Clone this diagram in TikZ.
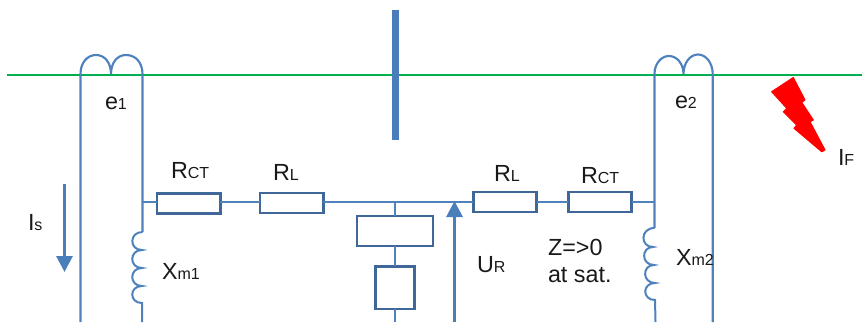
\documentclass[tikz,border=0pt]{standalone}
\usepackage{fontspec}
\setmainfont{Liberation Sans}
\usetikzlibrary{arrows.meta}
\definecolor{wire}{HTML}{4F81BD}
\definecolor{boxline}{HTML}{3F6797}
\definecolor{barblue}{HTML}{4A7EBB}
\definecolor{linegreen}{HTML}{00B050}
\newcommand{\bigt}[2]{\fontsize{17.5}{17}\selectfont #1\fontsize{12}{12}\selectfont #2}
\tikzset{
  x=0.75pt,y=-0.75pt,
  wireline/.style={draw=wire,line width=1.5pt},
  ctline/.style={draw=wire,line width=1.6pt},
  res/.style={draw=boxline,line width=2pt,fill=white,rectangle,inner sep=0pt,outer sep=0pt},
  lab/.style={anchor=base west,inner sep=0pt,outer sep=0pt,text=black!90},
  bigarrow/.style={draw=barblue,line width=2.2pt,-{Triangle[length=12pt,width=12pt]}},
}
\begin{document}
\begin{tikzpicture}
\useasboundingbox (0,0) rectangle (862,322);
% named points
\coordinate (lineL) at (7,74.5);
\coordinate (lineR) at (862,74.5);
\coordinate (busT) at (395.5,10);
\coordinate (busB) at (395.5,140);
\coordinate (aL) at (80.5,74);
\coordinate (aM) at (111,74);
\coordinate (aR) at (142.5,74);
\coordinate (aLb) at (80.5,322);
\coordinate (jL) at (142.5,201.5);
\coordinate (coilLt) at (142.5,232);
\coordinate (coilLb) at (142,303);
\coordinate (aRb) at (142,322);
\coordinate (bL) at (654.5,74);
\coordinate (bM) at (683.5,74);
\coordinate (bR) at (712.7,74);
\coordinate (bRb) at (712.7,322);
\coordinate (jR) at (654.5,201.5);
\coordinate (coilRt) at (654.5,228);
\coordinate (coilRb) at (655,300);
\coordinate (bLb) at (655.5,322);
\coordinate (jM) at (395,201.5);
\coordinate (midB) at (395,322);
\coordinate (urB) at (454.5,322);
\coordinate (urT) at (454.5,201);
\coordinate (isT) at (64.5,184);
\coordinate (isB) at (64.5,272);
% green line
\draw[linegreen,line width=1.5pt] (lineL) -- (lineR);
% bus bar
\draw[barblue,line width=5.2pt] (busT) -- (busB);
% left CT
\draw[ctline] (aLb) -- (aL) .. controls (80.5,63) and (87,55) .. (96,55) .. controls (105,55) and (111,63) .. (aM) .. controls (111,63) and (117,55) .. (126,55) .. controls (136,55) and (142.5,63) .. (aR) -- (coilLt);
\draw[wireline] (coilLt) .. controls (129,232) and (129,250) .. (142,250) .. controls (129,250) and (129,268) .. (142,268) .. controls (129,268) and (129,286) .. (142,286) .. controls (129,286) and (129,303) .. (coilLb) -- (aRb);
% right CT
\draw[ctline] (bRb) -- (bR) .. controls (712.7,63) and (706,54.5) .. (698,54.5) .. controls (690,54.5) and (683.5,63) .. (bM) .. controls (683.5,64) and (677,56) .. (669,56) .. controls (661,56) and (654.5,64) .. (bL) -- (coilRt);
\draw[wireline] (coilRt) .. controls (640,228) and (640,247) .. (653,247) .. controls (641,247) and (641,265) .. (654,265) .. controls (642,265) and (642,283) .. (655,283) .. controls (642,283) and (642,300) .. (coilRb) -- (bLb);
% resistors
\node[res,minimum width=47.5pt,minimum height=15pt] (rct1) at (188.5,203.5) {};
\node[res,minimum width=47.5pt,minimum height=15pt] (rl1) at (291.5,203) {};
\node[res,minimum width=47.5pt,minimum height=15pt] (rl2) at (505,202) {};
\node[res,minimum width=47.5pt,minimum height=15pt] (rct2) at (600,202) {};
\node[res,minimum width=57pt,minimum height=22.5pt] (zbox) at (395,231) {};
\node[res,minimum width=29.25pt,minimum height=32pt] (sbox) at (395,287.5) {};
% wires
\draw[wireline] (jL) -- (rct1.west |- jL);
\draw[wireline] (rct1.east |- jL) -- (rl1.west |- jL);
\draw[wireline] (rl1.east |- jL) -- (rl2.west |- jL);
\draw[wireline] (rl2.east |- jL) -- (rct2.west |- jL);
\draw[wireline] (rct2.east |- jL) -- (jR);
\draw[wireline] (jM) -- (jM |- zbox.north);
\draw[wireline] (jM |- zbox.south) -- (jM |- sbox.north);
\draw[wireline] (jM |- sbox.south) -- (midB);
% arrows
\draw[bigarrow] (urB) -- (urT);
\draw[bigarrow] (isT) -- (isB);
% lightning
\fill[red,draw=red,line width=0.8pt,line join=round] (771.7,91.7) -- (793.3,77.5) -- (805,100) -- (801.7,102.3) -- (813.3,120) -- (810,121.7) -- (825,150) -- (821.7,151.7) -- (794,128.3) -- (796.7,125) -- (783.3,111.7) -- (786.7,108.3) -- cycle;
% labels
\node[lab] (te1) at (105,109) {\bigt{e}{1}};
\node[lab] (te2) at (675,108) {\bigt{e}{2}};
\node[lab] (trct1) at (171,178) {\bigt{R}{CT}};
\node[lab] (trl1) at (273,180) {\bigt{R}{L}};
\node[lab] (trl2) at (494,181) {\bigt{R}{L}};
\node[lab] (trct2) at (581,183) {\bigt{R}{CT}};
\node[lab] (tis) at (28,230) {\bigt{I}{s}};
\node[lab] (txm1) at (162,279) {\bigt{X}{m1}};
\node[lab] (txm2) at (676,265) {\bigt{X}{m2}};
\node[lab] (tur) at (477,272) {\bigt{U}{R}};
\node[lab] (tz) at (548,255) {\fontsize{17.5}{17}\selectfont Z=>0};
\node[lab] (tsat) at (548,282) {\fontsize{17.5}{17}\selectfont at sat.};
\node[lab] (tif) at (838,165) {\bigt{I}{F}};
\end{tikzpicture}
\end{document}
